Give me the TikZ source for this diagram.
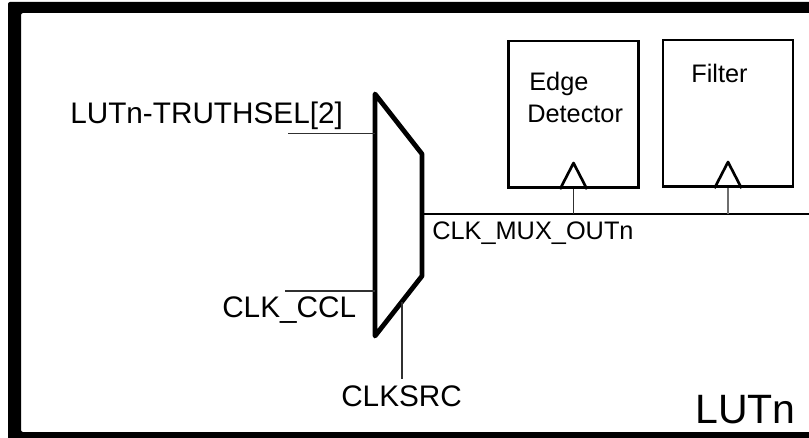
\documentclass[tikz,border=0pt]{standalone}
\usepackage{fontspec}
\setmainfont{Liberation Sans}
\definecolor{lutblack}{HTML}{000000}
\definecolor{lutgray}{HTML}{303030}
\tikzset{
  sigwire/.style={lutgray, line width=0.8pt},
  clockwire/.style={lutblack, line width=2.2pt},
  blockbox/.style={draw=lutblack, line width=2pt, minimum width=97.5pt, minimum height=110pt, inner sep=0pt},
  clockmark/.style={lutblack, line width=2pt, line join=round}
}
\begin{document}
\begin{tikzpicture}[x=0.75pt, y=-0.75pt]
  \useasboundingbox (0,0) rectangle (809,438);
  % outer LUTn frame, open at the right
  \fill[lutblack, even odd rule, rounded corners=1.5pt]
    (815,2) -- (8,2) -- (8,444) -- (815,444) -- (815,13) -- cycle
    (815,13) -- (21,13) -- (21,432) -- (815,432) -- cycle;
  % clock mux
  \coordinate (muxtl) at (375,94);
  \coordinate (muxtr) at (422,154);
  \coordinate (muxbr) at (422,276);
  \coordinate (muxbl) at (375,336);
  \draw[lutblack, line width=3.6pt, line join=round] (muxtl) -- (muxtr) -- (muxbr) -- (muxbl) -- cycle;
  % input and select wires
  \coordinate (truthin) at (288,133.5);
  \coordinate (truthmux) at (375,133.5);
  \coordinate (cclin) at (285,291);
  \coordinate (cclmux) at (375,291);
  \coordinate (srcmux) at (402,302);
  \coordinate (srcin) at (402,379);
  \draw[sigwire] (truthin) -- (truthmux);
  \draw[sigwire] (cclin) -- (cclmux);
  \draw[sigwire] (srcmux) -- (srcin);
  % edge detector and filter blocks
  \node[blockbox] (edgebox) at (573.5,114.5) {};
  \node[blockbox] (filterbox) at (728,113.5) {};
  % clock marks
  \coordinate (edgetip) at (573.5,163);
  \coordinate (filtertip) at (728,162);
  \draw[clockmark] ([xshift=-13.5*0.75pt]edgebox.south) -- (edgetip) -- ([xshift=13.5*0.75pt]edgebox.south);
  \draw[clockmark] ([xshift=-13.5*0.75pt]filterbox.south) -- (filtertip) -- ([xshift=13.5*0.75pt]filterbox.south);
  % clock bus with taps
  \coordinate (busin) at (422,214);
  \coordinate (busout) at (809,214);
  \coordinate (edgetap) at (573.5,214);
  \coordinate (filtertap) at (728,214);
  \draw[clockwire] (busin) -- (busout);
  \draw[sigwire] (edgebox.south) -- (edgetap);
  \draw[sigwire, lutgray!70] (filterbox.south) -- (filtertap);
  % labels
  \begin{scope}[every node/.style={anchor=base west, inner sep=0pt, text=lutblack, font=\fontsize{22.3pt}{24pt}\selectfont}]
    \node (truthlabel) at (70,124) {LUTn-TRUTHSEL[2]};
    \node (ccllabel) at (222,317) {CLK\_CCL};
    \node (srclabel) at (341,406) {CLKSRC};
  \end{scope}
  \begin{scope}[every node/.style={anchor=base west, inner sep=0pt, text=lutblack, font=\fontsize{19pt}{21pt}\selectfont}]
    \node (buslabel) at (432,239) {CLK\_MUX\_OUTn};
    \node (edgelabel) at (529,91) {Edge};
    \node (detectlabel) at (527,123) {Detector};
    \node (filterlabel) at (691,83) {Filter};
  \end{scope}
  \node[anchor=base west, inner sep=0pt, text=lutblack, font=\fontsize{30.75pt}{33pt}\selectfont] (lutlabel) at (695,423) {LUTn};
\end{tikzpicture}
\end{document}
